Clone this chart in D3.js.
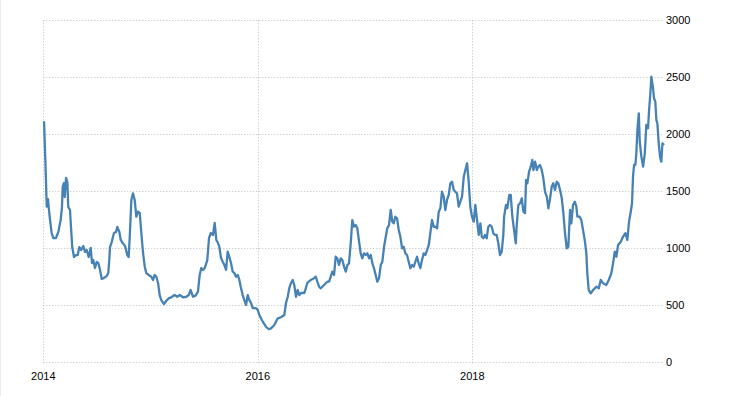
<!DOCTYPE html>
<html><head><meta charset="utf-8">
<script src="https://cdn.jsdelivr.net/npm/d3@7"></script>
<style>
html,body{margin:0;padding:0;background:#fff;}
svg{display:block;font-family:"Liberation Sans",Arial,sans-serif;}
</style></head>
<body>
<svg id="chart" width="731" height="396"></svg>
<script>
// Decimal-year dates of each observation
const dates = [2014.007,2014.019,2014.032,2014.044,2014.053,2014.063,2014.078,2014.093,2014.118,2014.140,
2014.162,2014.174,2014.181,2014.193,2014.200,2014.212,2014.224,2014.233,2014.249,2014.258,
2014.270,2014.286,2014.305,2014.321,2014.336,2014.354,2014.373,2014.389,2014.405,2014.423,
2014.442,2014.454,2014.466,2014.482,2014.498,2014.513,2014.529,2014.545,2014.566,2014.591,
2014.606,2014.615,2014.622,2014.638,2014.647,2014.659,2014.678,2014.690,2014.709,2014.722,
2014.740,2014.762,2014.783,2014.796,2014.806,2014.821,2014.836,2014.852,2014.867,2014.883,
2014.899,2014.914,2014.930,2014.946,2014.960,2014.983,2015.007,2015.023,2015.039,2015.054,
2015.070,2015.085,2015.100,2015.125,2015.147,2015.169,2015.193,2015.225,2015.249,2015.272,
2015.303,2015.333,2015.356,2015.374,2015.396,2015.417,2015.442,2015.458,2015.473,2015.489,
2015.505,2015.529,2015.545,2015.561,2015.582,2015.598,2015.613,2015.629,2015.641,2015.657,
2015.673,2015.688,2015.704,2015.719,2015.734,2015.750,2015.766,2015.781,2015.797,2015.813,
2015.828,2015.843,2015.859,2015.874,2015.890,2015.906,2015.921,2015.937,2015.953,2015.983,
2015.999,2016.014,2016.046,2016.076,2016.102,2016.123,2016.154,2016.186,2016.216,2016.247,
2016.263,2016.279,2016.294,2016.310,2016.325,2016.340,2016.356,2016.372,2016.387,2016.403,
2016.434,2016.462,2016.493,2016.524,2016.540,2016.555,2016.571,2016.587,2016.601,2016.617,
2016.648,2016.664,2016.680,2016.695,2016.711,2016.726,2016.741,2016.757,2016.773,2016.788,
2016.804,2016.820,2016.835,2016.850,2016.866,2016.881,2016.897,2016.913,2016.928,2016.944,
2016.959,2016.974,2016.990,2017.006,2017.021,2017.037,2017.053,2017.068,2017.083,2017.099,
2017.114,2017.130,2017.146,2017.161,2017.177,2017.193,2017.207,2017.223,2017.239,2017.254,
2017.267,2017.282,2017.298,2017.314,2017.329,2017.345,2017.360,2017.375,2017.391,2017.407,
2017.422,2017.438,2017.454,2017.469,2017.484,2017.500,2017.515,2017.531,2017.547,2017.562,
2017.578,2017.594,2017.608,2017.624,2017.640,2017.655,2017.671,2017.687,2017.702,2017.717,
2017.733,2017.748,2017.764,2017.780,2017.795,2017.811,2017.827,2017.841,2017.857,2017.873,
2017.888,2017.904,2017.920,2017.935,2017.951,2017.966,2017.981,2017.997,2018.013,2018.028,
2018.044,2018.060,2018.075,2018.088,2018.103,2018.118,2018.134,2018.149,2018.165,2018.181,
2018.196,2018.212,2018.227,2018.242,2018.258,2018.274,2018.289,2018.296,2018.314,2018.326,
2018.345,2018.358,2018.373,2018.389,2018.405,2018.414,2018.429,2018.445,2018.461,2018.476,
2018.491,2018.501,2018.513,2018.529,2018.545,2018.559,2018.569,2018.585,2018.601,2018.615,
2018.631,2018.647,2018.662,2018.678,2018.694,2018.709,2018.725,2018.740,2018.755,2018.771,
2018.787,2018.802,2018.818,2018.834,2018.849,2018.864,2018.880,2018.895,2018.911,2018.923,
2018.939,2018.955,2018.970,2018.979,2019.001,2019.016,2019.032,2019.048,2019.063,2019.072,
2019.085,2019.104,2019.126,2019.156,2019.179,2019.197,2019.219,2019.249,2019.272,2019.296,
2019.312,2019.328,2019.343,2019.359,2019.384,2019.405,2019.427,2019.445,2019.461,2019.477,
2019.489,2019.498,2019.508,2019.520,2019.529,2019.539,2019.552,2019.561,2019.576,2019.592,
2019.608,2019.622,2019.638,2019.648,2019.660,2019.669,2019.685,2019.694,2019.706,2019.716,
2019.725,2019.738,2019.750,2019.762,2019.772,2019.787];

// Index values
const values = [2115,1775,1365,1432,1336,1248,1134,1090,1090,1143,
1248,1362,1538,1573,1450,1617,1582,1362,1336,1187,
1011,924,941,941,1011,985,1020,968,985,924,
1003,871,897,827,880,871,810,731,740,757,
783,897,1011,1055,1090,1134,1143,1187,1143,1073,
1046,1020,941,924,1102,1424,1482,1424,1277,1321,
1310,1134,959,839,783,766,751,722,766,751,
696,590,546,511,540,561,570,590,575,590,
570,575,590,634,575,582,619,766,827,810,
827,897,1090,1134,1117,1222,1073,1046,1014,915,
882,854,810,970,926,871,795,783,751,766,
722,652,590,546,503,590,546,520,476,476,
459,415,356,312,290,298,327,386,395,415,
520,575,652,696,722,678,575,634,590,608,
608,696,722,737,751,707,663,649,663,678,
707,707,751,795,766,926,912,854,912,897,
839,795,854,868,1044,1248,1189,1204,1175,1058,
956,912,956,941,956,912,941,868,825,766,
707,737,854,882,1014,1102,1175,1204,1336,1233,
1219,1277,1263,1161,1102,1000,1014,956,941,882,
825,854,839,882,926,868,825,897,956,941,
985,1029,1132,1248,1189,1189,1175,1321,1351,1496,
1453,1336,1424,1468,1570,1584,1511,1496,1482,1365,
1409,1453,1628,1687,1746,1584,1365,1277,1233,1380,
1248,1117,1219,1102,1088,1117,1088,1189,1204,1189,
1132,1117,1117,1044,941,970,1117,1277,1380,1351,
1468,1468,1277,1161,1044,1204,1380,1395,1439,1321,
1307,1599,1570,1672,1716,1775,1687,1760,1687,1716,
1731,1687,1614,1496,1453,1351,1439,1540,1570,1511,
1584,1570,1511,1439,1307,1132,1000,1014,1336,1219,
1380,1409,1365,1277,1277,1248,1161,1073,956,781,
634,605,634,663,649,722,693,678,722,781,
868,970,926,1029,1058,1102,1132,1073,1233,1321,
1395,1628,1731,1731,1833,2038,2184,1935,1804,1716,
1833,2082,2053,2213,2360,2505,2404,2316,2286,2125,
2097,1921,1804,1760,1921,1906];

const xTickValues = [2014, 2016, 2018];
const xTickLabels = ["2014", "2016", "2018"];
const yTickValues = [0, 500, 1000, 1500, 2000, 2500, 3000];

const data = dates.map((d, i) => ({t: d, v: values[i]}));

const svg = d3.select("#chart");
const plotLeft = 43.3, plotRight = 663.5, plotTop = 20.3, plotBottom = 362.3;

const x = d3.scaleLinear().domain([2014, 2019.787]).range([plotLeft, 664]);
const y = d3.scaleLinear().domain([0, 3000]).range([plotBottom, plotTop]);

// faint left border
svg.append("line").attr("x1", 0.5).attr("x2", 0.5).attr("y1", 0).attr("y2", 396)
  .attr("stroke", "#ececec").attr("stroke-width", 1);

// horizontal grid
svg.append("g").selectAll("line").data(yTickValues).join("line")
  .attr("x1", plotLeft).attr("x2", plotRight)
  .attr("y1", d => Math.round(y(d)) + 0.5).attr("y2", d => Math.round(y(d)) + 0.5)
  .attr("stroke", "#bdbdbd").attr("stroke-width", 1).attr("stroke-dasharray", "1,2");

// vertical grid
svg.append("g").selectAll("line").data(xTickValues).join("line")
  .attr("x1", d => Math.round(x(d)) + 0.5).attr("x2", d => Math.round(x(d)) + 0.5)
  .attr("y1", plotTop).attr("y2", plotBottom + 3)
  .attr("stroke", "#bdbdbd").attr("stroke-width", 1).attr("stroke-dasharray", "1,2");

// y labels
svg.append("g").selectAll("text").data(yTickValues).join("text")
  .attr("x", 666).attr("y", d => y(d) + 4)
  .attr("font-size", 11).attr("fill", "#000")
  .text(d => d);

// x labels
svg.append("g").selectAll("text").data(xTickValues).join("text")
  .attr("x", d => x(d)).attr("y", 380)
  .attr("text-anchor", "middle")
  .attr("font-size", 11).attr("fill", "#000")
  .text((d, i) => xTickLabels[i]);

// line
const line = d3.line().x(d => x(d.t)).y(d => y(d.v));
svg.append("path").datum(data)
  .attr("d", line)
  .attr("fill", "none")
  .attr("stroke", "#4682b4")
  .attr("stroke-width", 2.3)
  .attr("stroke-linejoin", "round");
</script>
</body></html>
